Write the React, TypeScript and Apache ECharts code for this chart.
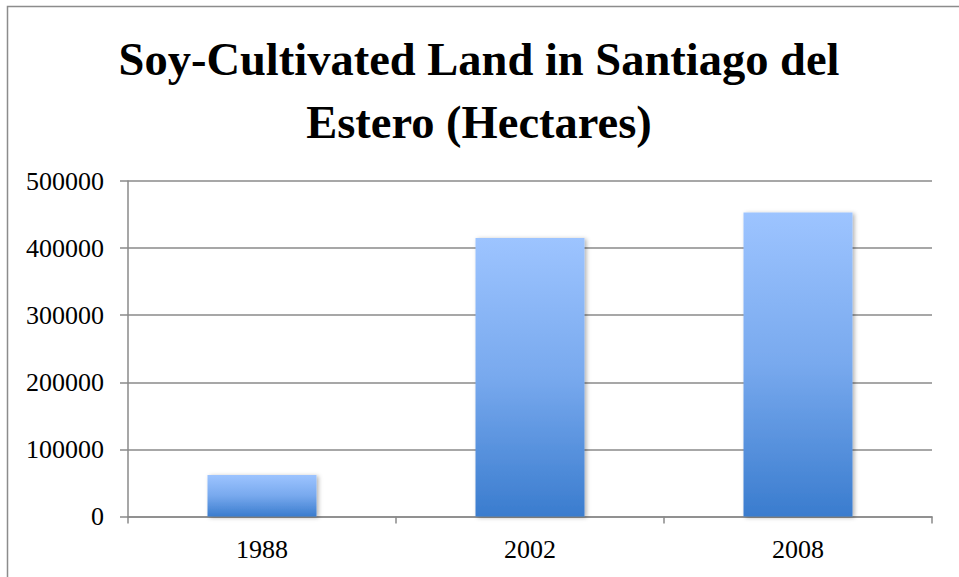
import React, { useEffect, useRef } from "react";
import * as echarts from "echarts";

const categories = ["1988", "2002", "2008"];
const hectares = [62000, 415000, 453000];
const yTicks = { min: 0, max: 500000, interval: 100000 };
const titleText = "Soy-Cultivated Land in Santiago del\nEstero (Hectares)";

export default function App() {
  const ref = useRef<HTMLDivElement>(null);
  useEffect(() => {
    if (!ref.current) return;
    const chart = echarts.init(ref.current, null, { renderer: "svg" });
    const axisGray = "#8a8a8a";
    const serif = "'Liberation Serif', 'Times New Roman', serif";
    chart.setOption({
      animation: false,
      backgroundColor: "#ffffff",
      title: {
        text: titleText,
        left: 474,
        top: 23,
        textAlign: "center",
        textStyle: {
          fontFamily: serif,
          fontWeight: "bold",
          fontSize: 46.5,
          lineHeight: 63,
          color: "#000",
        },
      },
      graphic: [
        {
          type: "rect",
          shape: { x: 7.5, y: 6.5, width: 960, height: 600 },
          style: { fill: "none", stroke: "#8c8c8c", lineWidth: 1.5 },
          silent: true,
          z: -1,
        },
      ],
      grid: { left: 128, right: 27, top: 181, bottom: 60.5 },
      xAxis: {
        type: "category",
        data: categories,
        axisLine: { lineStyle: { color: axisGray, width: 1.5 } },
        axisTick: { show: true, length: 7, alignWithLabel: false, lineStyle: { color: axisGray, width: 1.5 } },
        axisLabel: {
          margin: 20,
          fontFamily: serif,
          fontSize: 26,
          color: "#000",
        },
      },
      yAxis: {
        type: "value",
        min: yTicks.min,
        max: yTicks.max,
        interval: yTicks.interval,
        axisLine: { show: true, lineStyle: { color: axisGray, width: 1.5 } },
        axisTick: { show: true, length: 8, lineStyle: { color: axisGray, width: 1.5 } },
        splitLine: { show: true, lineStyle: { color: axisGray, width: 1.5 } },
        axisLabel: {
          margin: 24,
          fontFamily: serif,
          fontSize: 26,
          color: "#000",
          formatter: (v: number) => String(v),
        },
      },
      series: [
        {
          type: "bar",
          data: hectares,
          barWidth: 109,
          itemStyle: {
            color: new echarts.graphic.LinearGradient(0, 0, 0, 1, [
              { offset: 0, color: "#9dc4ff" },
              { offset: 0.5, color: "#78a9ee" },
              { offset: 1, color: "#3a7cce" },
            ]),
            shadowColor: "rgba(0,0,0,0.3)",
            shadowBlur: 4,
            shadowOffsetX: 2,
            shadowOffsetY: 1,
          },
        },
      ],
    });
    return () => chart.dispose();
  }, []);
  return (
    <div
      ref={ref}
      style={{ position: "fixed", left: 0, top: 0, width: 959, height: 577 }}
    />
  );
}
